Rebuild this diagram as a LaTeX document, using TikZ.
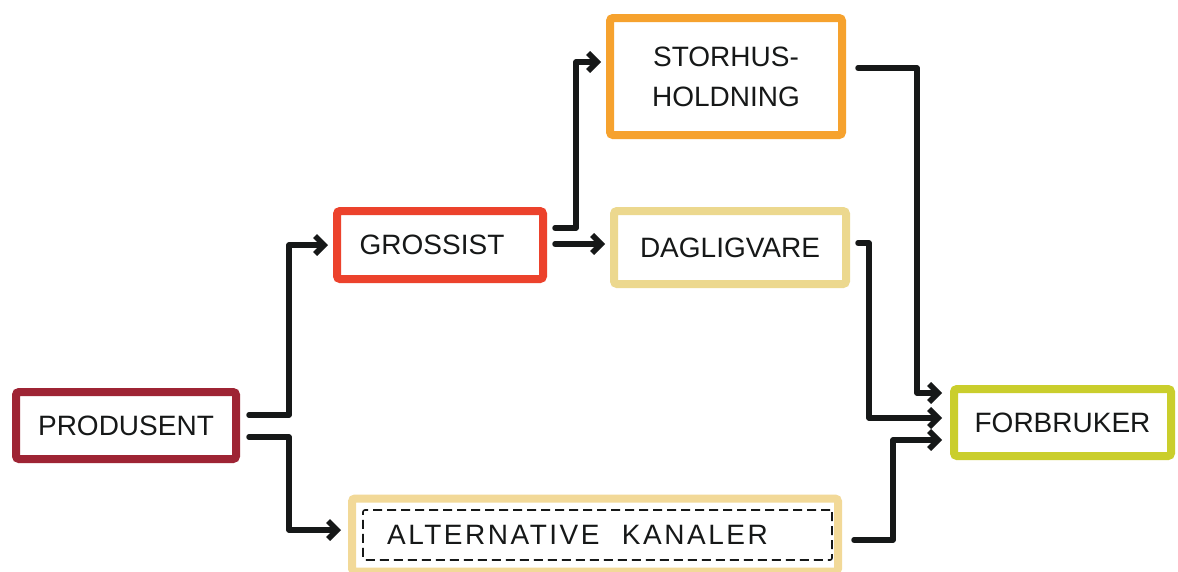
\documentclass[tikz,border=0pt]{standalone}
\usepackage{fontspec}
\setmainfont{Liberation Sans}
\usetikzlibrary{calc,arrows.meta}
\definecolor{inkc}{RGB}{22,24,24}
\definecolor{prodc}{RGB}{158,36,52}
\definecolor{grossc}{RGB}{236,66,44}
\definecolor{storc}{RGB}{246,162,46}
\definecolor{dagc}{RGB}{236,216,142}
\definecolor{forbc}{RGB}{202,206,44}
\definecolor{altc}{RGB}{242,217,152}
\tikzset{
  stage/.style={draw=#1, line width=8pt, rounded corners=3pt, fill=white,
    inner sep=0pt, text=inkc, font=\fontsize{28}{40}\selectfont, align=center},
  flow/.style={draw=inkc, line width=5.5pt, line cap=round, line join=round,
    -{Straight Barb[length=9pt,width=18pt]}},
  dashbox/.style={draw=inkc, line width=1.6pt, dash pattern=on 9pt off 5pt,
    rounded corners=2pt, minimum width=469pt, minimum height=50pt}
}
\begin{document}
\begin{tikzpicture}[x=1pt,y=-1pt]
\useasboundingbox[fill=white] (0,0) rectangle (1178,571);

% stages of the supply chain
\node[stage=prodc, minimum width=220pt, minimum height=67pt] (prod) at (126,425.5) {\raisebox{-3pt}{PRODUSENT}};
\node[stage=grossc, minimum width=206pt, minimum height=68pt] (gross) at (440,245) {\hspace*{-16pt}GROSSIST};
\node[stage=storc, minimum width=232pt, minimum height=117pt] (stor) at (726,76.5) {STORHUS-\\HOLDNING};
\node[stage=dagc, minimum width=232pt, minimum height=73pt] (dag) at (730,247.5) {DAGLIGVARE};
\node[stage=forbc, minimum width=217pt, minimum height=67pt] (forb) at (1062.5,422.5) {FORBRUKER};
\node[stage=altc, minimum width=486pt, minimum height=73pt] (alt) at (595,535) {};
\node[dashbox, text=inkc, font=\fontsize{28}{40}\selectfont] (altin) at (597.5,535)
  {\hspace*{-40pt}\addfontfeature{LetterSpace=9}ALTERNATIVE\hspace{0.8em}KANALER};

% flows from the producer
\draw[flow] ($(prod.east)+(9,-10.5)$) -| ($(gross.west)+(-44,0)$) -- ($(gross.west)+(-5,0)$);
\draw[flow] ($(prod.east)+(9,11.5)$) -| ($(alt.west)+(-59,-5)$) -- ($(alt.west)+(-7,-5)$);

% flows from the wholesaler
\draw[flow] ($(gross.east)+(8,-17)$) -| ($(stor.west)+(-30,-14.5)$) -- ($(stor.west)+(-5,-14.5)$);
\draw[flow] ($(gross.east)+(8,-1)$) -- ($(gross.east -| dag.west)+(-5,-1)$);

% flows to the consumer
\draw[flow] ($(stor.east)+(12,-8.5)$) -| ($(forb.west)+(-33,-29.5)$) -- ($(forb.west)+(-8,-29.5)$);
\draw[flow] ($(dag.east)+(8,-4.5)$) -| ($(forb.west)+(-81,-4.5)$) -- ($(forb.west)+(-8,-4.5)$);
\draw[flow] ($(alt.east)+(12,5)$) -| ($(forb.west)+(-57,17.5)$) -- ($(forb.west)+(-8,17.5)$);
\end{tikzpicture}
\end{document}
